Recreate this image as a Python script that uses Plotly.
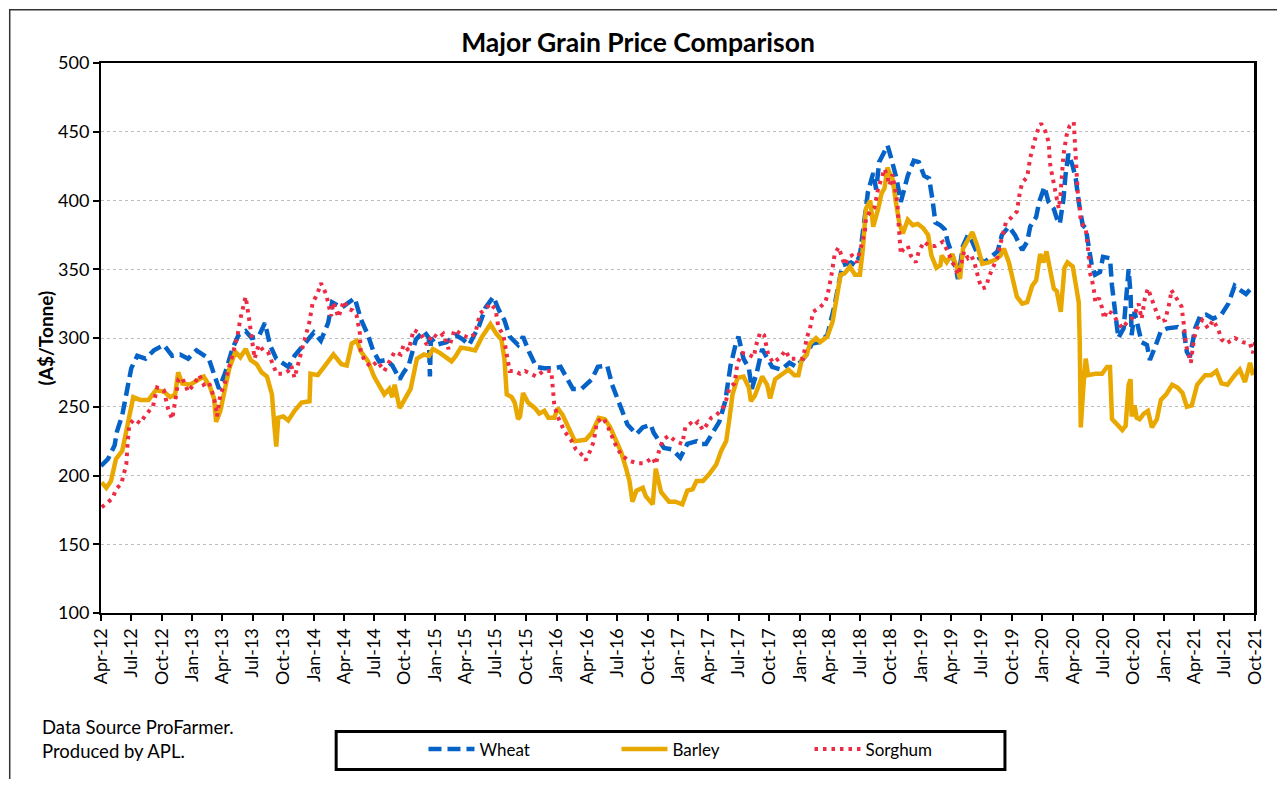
import plotly.graph_objects as go
import pandas as pd

# ---------------- data ----------------
wheat_dates = [
"2012-04-01","2012-04-22","2012-05-12","2012-05-19","2012-06-04","2012-06-19","2012-07-01","2012-07-19","2012-08-13","2012-09-07",
"2012-10-07","2012-11-01","2012-11-25","2012-12-19","2013-01-13","2013-02-19","2013-03-07","2013-03-22","2013-04-10","2013-05-01",
"2013-05-19","2013-06-10","2013-06-28","2013-07-19","2013-08-07","2013-08-22","2013-09-10","2013-10-16","2013-11-04","2013-12-04",
"2014-01-01","2014-01-22","2014-02-13","2014-02-25","2014-03-25","2014-05-04","2014-05-22","2014-06-13","2014-06-28","2014-07-16",
"2014-08-07","2014-08-25","2014-09-16","2014-09-28","2014-10-13","2014-11-04","2014-11-28","2014-12-13","2014-12-16","2014-12-19",
"2015-01-04","2015-02-04","2015-03-04","2015-03-25","2015-04-13","2015-05-13","2015-06-01","2015-06-25","2015-07-10","2015-07-28",
"2015-08-13","2015-09-07","2015-09-22","2015-10-10","2015-11-01","2015-11-25","2015-12-25","2016-01-13","2016-02-19","2016-03-16",
"2016-04-16","2016-05-04","2016-06-01","2016-06-16","2016-07-13","2016-08-01","2016-08-28","2016-09-16","2016-10-10","2016-10-19",
"2016-11-19","2016-12-13","2017-01-07","2017-01-28","2017-02-25","2017-03-07","2017-03-25","2017-04-10","2017-05-04","2017-05-22",
"2017-06-07","2017-06-22","2017-07-01","2017-07-16","2017-08-01","2017-08-10","2017-08-25","2017-09-10","2017-09-25","2017-10-10",
"2017-11-07","2017-12-01","2017-12-22","2018-01-22","2018-02-07","2018-03-01","2018-03-25","2018-04-16","2018-05-01","2018-05-10",
"2018-06-04","2018-06-16","2018-07-01","2018-07-16","2018-07-25","2018-08-10","2018-08-19","2018-08-28","2018-09-13","2018-09-22",
"2018-10-04","2018-10-19","2018-11-01","2018-11-22","2018-12-10","2018-12-25","2019-01-10","2019-01-25","2019-02-04","2019-02-13",
"2019-02-28","2019-03-13","2019-03-22","2019-04-07","2019-04-22","2019-05-07","2019-05-22","2019-06-04","2019-06-25","2019-07-10",
"2019-08-04","2019-08-19","2019-09-01","2019-09-22","2019-10-10","2019-11-01","2019-11-16","2019-11-25","2019-12-13","2019-12-22",
"2020-01-07","2020-01-19","2020-02-04","2020-02-13","2020-02-22","2020-03-04","2020-03-10","2020-03-19","2020-04-01","2020-04-10",
"2020-04-19","2020-05-01","2020-05-10","2020-05-19","2020-05-28","2020-06-07","2020-06-22","2020-07-01","2020-07-22","2020-07-28",
"2020-08-07","2020-08-16","2020-09-01","2020-09-10","2020-09-16","2020-09-22","2020-09-25","2020-10-04","2020-10-13","2020-10-25",
"2020-11-10","2020-11-19","2020-12-07","2020-12-22","2021-01-10","2021-02-10","2021-03-01","2021-03-10","2021-03-19","2021-04-04",
"2021-04-19","2021-05-07","2021-05-28","2021-06-22","2021-07-13","2021-08-01","2021-08-16","2021-09-04","2021-09-19","2021-09-28",
]
wheat_prices = [
207,212,222,232,244,261,278,287,285,291,
295,287,288,285,291,285,274,263,275,292,
302,305,300,301,311,295,285,279,287,296,
304,298,311,326,322,329,314,302,291,283,
284,280,270,275,280,299,305,300,272,300,
295,297,302,299,295,309,322,330,321,313,
301,295,301,290,279,278,278,279,263,263,
270,279,280,266,249,237,230,235,237,231,
220,219,213,223,225,223,223,230,239,254,
280,295,301,285,278,263,275,292,285,279,
277,282,279,288,296,297,302,324,343,353,
355,353,360,387,406,420,408,428,435,440,
430,416,399,418,429,428,418,416,401,384,
382,379,370,359,343,367,375,370,358,355,
360,363,375,381,375,364,370,381,388,399,
410,399,394,387,383,401,418,434,425,416,
399,382,380,365,353,346,348,359,358,338,
314,300,307,338,350,331,302,319,310,297,
295,284,295,305,307,308,305,290,286,307,
316,317,314,317,325,338,335,332,336,338,
]

barley_dates = [
"2012-04-03","2012-04-17","2012-05-01","2012-05-16","2012-06-04","2012-06-19","2012-07-07","2012-07-28","2012-08-22","2012-09-13",
"2012-10-07","2012-10-26","2012-11-10","2012-11-19","2012-12-01","2012-12-25","2013-01-13","2013-02-04","2013-02-22","2013-03-07",
"2013-03-13","2013-03-26","2013-04-07","2013-04-22","2013-05-10","2013-05-25","2013-06-10","2013-06-25","2013-07-13","2013-07-28",
"2013-08-13","2013-08-28","2013-09-04","2013-09-10","2013-09-16","2013-10-01","2013-10-16","2013-11-04","2013-11-25","2013-12-19",
"2013-12-22","2014-01-13","2014-02-01","2014-02-22","2014-03-01","2014-03-25","2014-04-10","2014-04-25","2014-05-10","2014-05-23",
"2014-06-13","2014-07-01","2014-07-16","2014-08-01","2014-08-16","2014-08-25","2014-09-01","2014-09-16","2014-09-28","2014-10-19",
"2014-11-07","2014-11-28","2014-12-13","2014-12-25","2015-01-16","2015-02-01","2015-02-19","2015-03-04","2015-03-19","2015-04-13",
"2015-05-01","2015-05-22","2015-06-16","2015-07-04","2015-07-19","2015-07-28","2015-08-04","2015-08-19","2015-08-28","2015-09-07",
"2015-09-13","2015-09-22","2015-10-07","2015-10-28","2015-11-10","2015-11-25","2015-12-07","2015-12-25","2016-01-04","2016-01-19",
"2016-02-10","2016-02-25","2016-03-28","2016-04-16","2016-05-07","2016-05-25","2016-06-10","2016-06-28","2016-07-13","2016-07-28",
"2016-08-07","2016-08-16","2016-08-28","2016-09-16","2016-09-25","2016-10-16","2016-10-25","2016-11-10","2016-12-04","2016-12-23",
"2017-01-13","2017-01-28","2017-02-13","2017-02-25","2017-03-16","2017-04-04","2017-04-25","2017-05-10","2017-05-25","2017-06-04",
"2017-06-13","2017-06-28","2017-07-16","2017-08-01","2017-08-07","2017-08-19","2017-09-10","2017-09-25","2017-10-04","2017-10-19",
"2017-11-07","2017-11-28","2017-12-16","2017-12-28","2018-01-07","2018-01-22","2018-02-01","2018-02-19","2018-03-04","2018-03-25",
"2018-04-10","2018-04-22","2018-05-04","2018-05-16","2018-06-01","2018-06-16","2018-07-01","2018-07-10","2018-07-19","2018-08-01",
"2018-08-10","2018-08-25","2018-09-04","2018-09-13","2018-09-22","2018-10-01","2018-10-07","2018-10-17","2018-10-28","2018-11-07",
"2018-11-22","2018-12-07","2018-12-22","2019-01-07","2019-01-22","2019-02-01","2019-02-16","2019-02-28","2019-03-04","2019-03-19",
"2019-04-04","2019-04-19","2019-04-28","2019-05-07","2019-05-22","2019-06-04","2019-06-19","2019-07-04","2019-07-23","2019-08-13",
"2019-08-28","2019-09-07","2019-09-22","2019-10-07","2019-10-16","2019-11-01","2019-11-16","2019-12-01","2019-12-13","2019-12-25",
"2020-01-04","2020-01-13","2020-01-22","2020-02-04","2020-02-13","2020-02-25","2020-03-07","2020-03-16","2020-04-01","2020-04-10",
"2020-04-19","2020-04-22","2020-04-25","2020-05-04","2020-05-10","2020-05-17","2020-06-08","2020-06-28","2020-07-13","2020-07-22",
"2020-07-28","2020-08-13","2020-08-28","2020-09-07","2020-09-16","2020-09-22","2020-09-25","2020-10-04","2020-10-10","2020-10-19",
"2020-11-01","2020-11-13","2020-11-25","2020-12-10","2020-12-22","2021-01-07","2021-01-25","2021-02-10","2021-02-25","2021-03-10",
"2021-03-25","2021-04-10","2021-04-25","2021-05-04","2021-05-22","2021-06-07","2021-06-22","2021-07-10","2021-08-01","2021-08-16",
"2021-09-01","2021-09-16","2021-09-25",
]
barley_prices = [
195,191,196,212,218,237,257,255,255,262,
261,257,259,275,267,266,269,272,265,256,
239,247,261,278,290,286,292,284,281,275,
272,259,237,221,242,243,240,247,253,254,
274,273,279,285,288,281,280,296,298,290,
283,272,266,259,263,257,266,249,254,263,
285,288,287,292,289,286,283,287,293,292,
291,301,310,303,299,285,259,257,253,241,
243,260,253,249,245,247,242,242,249,244,
233,225,226,231,242,241,235,225,217,205,
196,181,189,191,185,179,205,188,181,181,
179,189,190,196,196,201,208,218,225,242,
259,271,272,264,254,258,272,266,256,270,
273,277,273,273,284,288,296,300,297,301,
312,329,346,347,352,346,346,365,394,400,
381,394,405,409,424,418,416,399,383,376,
386,382,383,380,375,360,351,353,360,355,
361,351,343,365,371,377,367,354,355,357,
360,365,355,341,330,325,326,338,342,361,
355,363,351,336,334,319,351,355,352,341,
326,297,235,268,285,273,274,274,279,279,
241,237,233,236,266,270,243,251,242,241,
245,247,235,241,255,259,266,264,260,250,
251,266,270,273,273,276,267,266,273,277,
268,282,273,
]

sorghum_dates = [
"2012-04-03","2012-04-20","2012-05-07","2012-05-16","2012-06-01","2012-06-10","2012-06-16","2012-06-20","2012-06-25","2012-07-10",
"2012-07-28","2012-08-13","2012-09-04","2012-09-17","2012-10-07","2012-10-19","2012-11-01","2012-11-10","2012-11-20","2012-12-01",
"2012-12-19","2013-01-04","2013-01-22","2013-02-04","2013-02-19","2013-03-01","2013-03-13","2013-03-16","2013-03-26","2013-04-07",
"2013-04-16","2013-05-01","2013-05-16","2013-05-25","2013-06-04","2013-06-10","2013-06-19","2013-06-28","2013-07-07","2013-07-19",
"2013-08-02","2013-08-16","2013-09-01","2013-09-11","2013-10-01","2013-10-16","2013-10-25","2013-11-04","2013-11-19","2013-12-04",
"2013-12-19","2013-12-28","2014-01-13","2014-01-22","2014-02-07","2014-02-22","2014-03-01","2014-03-16","2014-04-01","2014-04-16",
"2014-04-28","2014-05-10","2014-05-19","2014-05-22","2014-06-04","2014-06-22","2014-07-11","2014-08-01","2014-08-16","2014-09-01",
"2014-09-19","2014-09-28","2014-10-13","2014-10-28","2014-11-19","2014-12-07","2014-12-25","2015-01-10","2015-01-25","2015-02-10",
"2015-02-28","2015-03-25","2015-04-13","2015-05-01","2015-05-16","2015-06-01","2015-06-16","2015-07-01","2015-07-10","2015-07-25",
"2015-08-04","2015-08-13","2015-08-28","2015-09-13","2015-09-28","2015-10-16","2015-11-01","2015-11-22","2015-12-16","2015-12-22",
"2015-12-25","2016-01-04","2016-01-14","2016-01-25","2016-02-13","2016-02-28","2016-03-22","2016-03-28","2016-04-11","2016-04-22",
"2016-05-01","2016-05-20","2016-06-04","2016-06-25","2016-07-13","2016-08-04","2016-08-28","2016-09-22","2016-10-16","2016-10-25",
"2016-11-05","2016-11-16","2016-12-04","2016-12-23","2017-01-13","2017-01-22","2017-02-07","2017-02-16","2017-03-01","2017-03-16",
"2017-03-25","2017-04-10","2017-04-25","2017-05-13","2017-05-25","2017-06-04","2017-06-19","2017-06-28","2017-07-13","2017-08-01",
"2017-08-16","2017-08-22","2017-09-04","2017-09-16","2017-09-28","2017-10-13","2017-11-04","2017-11-19","2017-12-02","2017-12-22",
"2018-01-11","2018-01-22","2018-02-01","2018-02-10","2018-03-01","2018-03-19","2018-03-28","2018-04-08","2018-04-16","2018-04-28",
"2018-05-07","2018-05-16","2018-05-28","2018-06-07","2018-06-22","2018-07-01","2018-07-10","2018-07-16","2018-07-19","2018-08-01",
"2018-08-14","2018-08-25","2018-09-04","2018-09-13","2018-09-22","2018-09-28","2018-10-07","2018-10-17","2018-10-22","2018-10-25",
"2018-10-28","2018-11-01","2018-11-07","2018-11-22","2018-12-01","2018-12-16","2018-12-25","2019-01-10","2019-01-25","2019-02-13",
"2019-02-28","2019-03-07","2019-03-22","2019-04-01","2019-04-13","2019-04-22","2019-05-01","2019-05-10","2019-05-22","2019-06-01",
"2019-06-10","2019-06-16","2019-06-25","2019-07-04","2019-07-16","2019-07-23","2019-08-07","2019-08-19","2019-08-28","2019-09-07",
"2019-09-13","2019-10-01","2019-10-16","2019-10-25","2019-11-01","2019-11-16","2019-11-25","2019-12-10","2019-12-19","2019-12-28",
"2020-01-10","2020-01-20","2020-01-23","2020-01-28","2020-02-04","2020-02-10","2020-02-19","2020-02-24","2020-02-28","2020-03-04",
"2020-03-13","2020-03-22","2020-04-04","2020-04-07","2020-04-10","2020-04-11","2020-04-16","2020-04-22","2020-04-25","2020-05-10",
"2020-05-16","2020-05-19","2020-05-22","2020-05-29","2020-06-04","2020-06-08","2020-06-19","2020-06-28","2020-07-04","2020-07-13",
"2020-07-28","2020-08-13","2020-08-28","2020-09-13","2020-09-25","2020-10-07","2020-10-16","2020-10-25","2020-11-04","2020-11-13",
"2020-11-28","2020-12-07","2020-12-19","2021-01-04","2021-01-19","2021-01-22","2021-02-07","2021-02-22","2021-03-01","2021-03-07",
"2021-03-16","2021-03-22","2021-04-01","2021-04-10","2021-04-25","2021-05-13","2021-05-28","2021-06-13","2021-06-22","2021-07-07",
"2021-08-01","2021-08-25","2021-09-16","2021-09-25","2021-10-01",
]
sorghum_prices = [
177,180,184,190,194,201,208,223,237,241,
238,244,250,264,262,249,241,254,270,271,
261,266,273,266,268,261,250,243,259,266,
274,288,301,314,324,330,316,300,285,295,
291,290,280,274,274,276,280,271,285,300,
312,325,333,340,332,316,326,315,327,321,
320,316,304,290,283,279,283,276,283,290,
288,295,291,306,303,295,303,300,303,292,
306,302,300,303,318,321,325,321,308,302,
288,276,276,274,276,274,272,276,276,260,
251,243,238,232,226,219,214,211,218,225,
239,242,235,223,215,211,209,209,213,208,
219,226,229,225,223,235,238,236,239,233,
236,242,244,248,255,264,267,282,289,288,
286,294,304,302,288,282,286,291,285,285,
285,300,307,319,322,326,334,348,361,366,
359,353,359,360,355,363,370,377,387,392,
395,409,416,423,417,411,419,406,398,384,
369,361,364,367,360,355,363,370,367,367,
369,370,363,357,351,346,353,363,358,360,
355,348,341,336,337,344,352,359,369,377,
384,388,392,406,413,417,431,445,452,456,
450,442,428,421,412,405,394,404,418,433,
447,454,457,442,428,416,406,396,384,380,
370,360,348,342,334,326,329,322,314,320,
318,312,307,312,314,319,325,314,329,336,
326,319,312,313,328,335,329,323,310,295,
288,282,300,307,313,307,313,306,299,296,
300,297,296,289,297,
]

tick_labels = [
"Apr-12","Jul-12","Oct-12","Jan-13","Apr-13","Jul-13","Oct-13","Jan-14","Apr-14","Jul-14",
"Oct-14","Jan-15","Apr-15","Jul-15","Oct-15","Jan-16","Apr-16","Jul-16","Oct-16","Jan-17",
"Apr-17","Jul-17","Oct-17","Jan-18","Apr-18","Jul-18","Oct-18","Jan-19","Apr-19","Jul-19",
"Oct-19","Jan-20","Apr-20","Jul-20","Oct-20","Jan-21","Apr-21","Jul-21","Oct-21",
]
tick_dates = pd.date_range("2012-04-01", "2021-10-01", freq="3MS")

FONT = "Lato"
# the page body keeps its default 8px margin, so the figure (and every label in it)
# is sized to fit inside the 1285x787 window without overflowing
OFF = 8
W, H = 1285 - 2 * OFF, 787 - 2 * OFF
PAGE_L, PAGE_T, PW, PH = 101, 63, 1163, 552     # plot area in page pixels
PL, PT = PAGE_L - OFF, PAGE_T - OFF             # plot area in figure pixels


def px_x(x):  # page x -> paper x
    return (x - PAGE_L) / PW


def px_y(y):  # page y -> paper y
    return (PAGE_T + PH - y) / PH


fig = go.Figure()
fig.add_trace(go.Scatter(x=pd.to_datetime(wheat_dates), y=wheat_prices, name="Wheat", mode="lines",
                         line=dict(color="#0563C8", width=4.5, dash="13px,6px")))
fig.add_trace(go.Scatter(x=pd.to_datetime(barley_dates), y=barley_prices, name="Barley", mode="lines",
                         line=dict(color="#E8A800", width=4.5)))
fig.add_trace(go.Scatter(x=pd.to_datetime(sorghum_dates), y=sorghum_prices, name="Sorghum", mode="lines",
                         line=dict(color="#EE2B45", width=4, dash="3.5px,5px")))

fig.update_layout(
    width=W, height=H,
    margin=dict(l=PL, r=W - PL - PW, t=PT, b=H - PT - PH, pad=0),
    paper_bgcolor="white", plot_bgcolor="white",
    font=dict(family=FONT, size=18, color="black"),
    title=dict(text="<b>Major Grain Price Comparison</b>", x=(638 - OFF) / W, xanchor="center",
               y=1 - (43 - OFF) / H, yanchor="middle", font=dict(size=26.5, family=FONT, color="black")),
    showlegend=True,
    legend=dict(orientation="h", x=px_x(426), y=px_y(752), xanchor="left", yanchor="middle",
                font=dict(size=17, family=FONT), entrywidth=132, itemwidth=46,
                bgcolor="rgba(0,0,0,0)", borderwidth=0),
)

fig.update_xaxes(
    type="date", range=["2012-04-01", "2021-10-01"],
    tickmode="array", tickvals=tick_dates, ticktext=tick_labels, tickangle=-90,
    ticks="outside", ticklen=6, tickwidth=1.5, tickcolor="black",
    showline=True, linewidth=2, linecolor="black", mirror=True,
    showgrid=False, zeroline=False, tickfont=dict(size=18, family=FONT),
)
fig.update_yaxes(
    range=[100, 500], tickmode="linear", tick0=100, dtick=50,
    ticks="outside", ticklen=6, tickwidth=1.5, tickcolor="black",
    showline=True, linewidth=2, linecolor="black", mirror=True,
    showgrid=True, gridcolor="#BDBDBD", gridwidth=1, griddash="dot",
    zeroline=False, tickfont=dict(size=18, family=FONT),
)

# y-axis title
fig.add_annotation(text="<b>(A$/Tonne)</b>", textangle=-90, xref="paper", yref="paper",
                   x=px_x(45), y=0.5, xanchor="center", yanchor="middle", showarrow=False,
                   font=dict(size=19, family=FONT))
# footnotes
fig.add_annotation(text="Data Source ProFarmer.<br>Produced by APL.", xref="paper", yref="paper",
                   x=px_x(40), y=px_y(741), xanchor="left", yanchor="middle",
                   align="left", showarrow=False, font=dict(size=18.5, family=FONT))
# plot-area right border (kept explicit)
fig.add_shape(type="line", xref="paper", yref="paper", x0=1, x1=1, y0=0, y1=1,
              line=dict(color="black", width=2))
# legend frame
fig.add_shape(type="rect", xref="paper", yref="paper",
              x0=px_x(338), x1=px_x(1012), y0=px_y(772), y1=px_y(734),
              line=dict(color="black", width=3), fillcolor="rgba(0,0,0,0)")
# outer chart frame: only its left and top edges fall inside the figure
fig.add_shape(type="rect", xref="paper", yref="paper",
              x0=px_x(9), x1=px_x(1300), y0=px_y(800), y1=px_y(9.5),
              line=dict(color="#333333", width=1.5), fillcolor="rgba(0,0,0,0)")

fig.write_html("out.html", config={"displayModeBar": False})
